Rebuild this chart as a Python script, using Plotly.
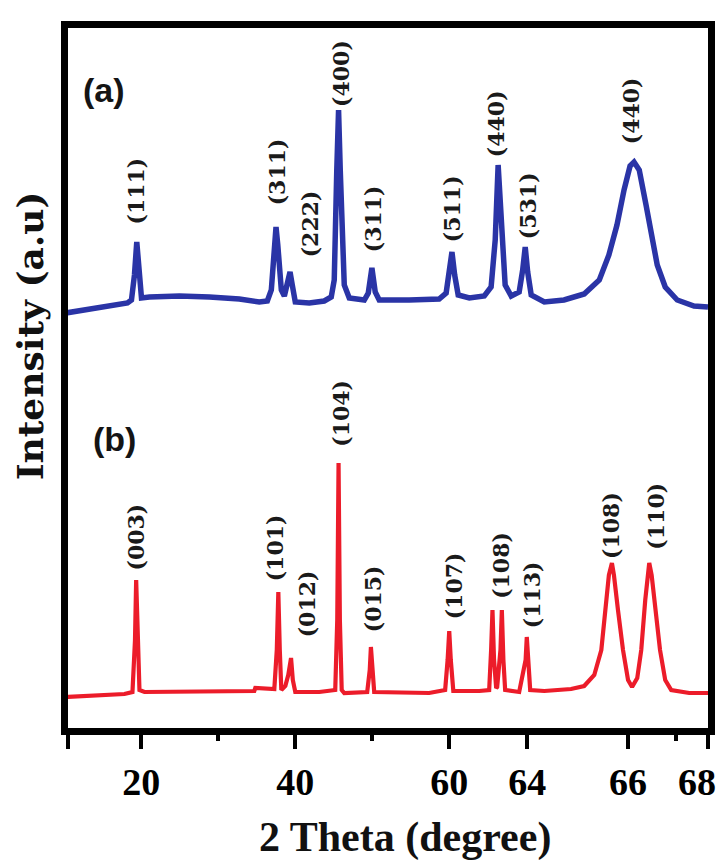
import numpy as np
import plotly.graph_objects as go

# ---- axis: the printed 2-theta tick labels are not evenly spaced ----
TICK_LABELS = [20, 40, 60, 64, 66, 68]
TICK_AXIS_POS = [20, 40, 60, 70.12, 83.22, 93.6]   # position of each label along the axis
MINOR_TICKS_2THETA = [30, 50, 67.2]

def to_axis(theta):
    return np.interp(theta, [0] + TICK_LABELS, [0] + TICK_AXIS_POS)

# ---- (a) blue pattern: 2-theta (deg) and stacked intensity (a.u.) ----
blue_2theta = [10.18, 12.0, 14.59, 17.19, 18.22, 18.74, 19.13, 19.43, 19.71, 20.04,
               21.08, 24.97, 28.86, 32.75, 35.34, 36.38, 36.90, 37.29, 37.51, 37.74,
               38.20, 38.59, 38.98, 39.33, 39.62, 40.01, 41.83, 43.77, 44.68, 45.07,
               45.40, 45.63, 45.85, 46.11, 46.37, 47.02, 48.97, 49.49, 49.96, 50.39,
               50.91, 54.80, 58.69, 59.60, 60.0, 60.14, 60.28, 60.46, 61.03, 61.80,
               62.15, 62.36, 62.51, 62.67, 62.87, 63.18, 63.59, 63.77, 63.90, 64.01,
               64.08, 64.34, 64.73, 65.13, 65.43, 65.62, 65.78, 65.92, 66.05, 66.15,
               66.28, 66.45, 66.58, 66.73, 66.93, 67.23, 67.65, 68.0]
blue_int = [422, 424, 427, 430, 432, 435, 460, 493, 465, 437,
            438, 439, 438, 436, 433, 434, 445, 490, 508, 490,
            445, 439, 450, 463, 450, 433, 432, 434, 438, 455,
            565, 625, 565, 485, 450, 437, 435, 442, 467, 443,
            435, 435, 436, 442, 460, 483, 460, 440, 437, 439,
            448, 495, 570, 505, 450, 439, 443, 465, 488, 463,
            440, 433, 435, 441, 455, 480, 510, 545, 569, 573,
            565, 530, 500, 470, 448, 435, 429, 428]

# ---- (b) red pattern ----
red_2theta = [10.18, 14.59, 17.83, 18.87, 19.20, 19.35, 19.52, 19.78, 20.43, 27.56,
              34.69, 34.82, 37.29, 37.61, 37.81, 38.00, 38.20, 38.72, 39.10, 39.46,
              39.69, 40.01, 43.13, 45.20, 45.46, 45.63, 45.80, 46.04, 46.37, 49.35,
              49.68, 49.83, 50.00, 50.26, 57.39, 59.47, 59.79, 60.0, 60.08, 60.21,
              61.54, 62.05, 62.15, 62.22, 62.30, 62.41, 62.46, 62.63, 62.70, 62.78,
              62.87, 63.59, 63.92, 63.98, 64.02, 64.06, 64.34, 64.63, 64.87, 65.13,
              65.33, 65.47, 65.56, 65.62, 65.68, 65.72, 65.80, 65.90, 66.0, 66.10,
              66.23, 66.33, 66.43, 66.49, 66.53, 66.59, 66.68, 66.80, 66.93, 67.08,
              67.53, 68.0]
red_int = [38, 40, 41, 43, 95, 155, 95, 45, 43, 44,
           44, 47, 46, 85, 143, 85, 45, 49, 60, 77,
           55, 43, 43, 45, 115, 272, 115, 45, 42, 43,
           65, 88, 65, 43, 42, 45, 75, 104, 75, 44,
           44, 45, 85, 125, 75, 47, 48, 85, 125, 75,
           45, 43, 75, 98, 75, 45, 44, 45, 46, 49,
           60, 85, 125, 160, 172, 160, 125, 85, 55, 48,
           57, 85, 135, 165, 172, 160, 125, 85, 55, 45,
           42, 42]

# ---- peak labels (Miller indices) ----
blue_hkl = ["(111)", "(311)", "(222)", "(400)", "(311)", "(511)", "(440)", "(531)", "(440)"]
blue_hkl_2theta = [19.39, 37.68, 41.96, 45.94, 50.13, 60.15, 62.41, 64.02, 66.08]
blue_hkl_int = [544, 563, 511, 662, 516, 526, 611, 529, 624]

red_hkl = ["(003)", "(101)", "(012)", "(104)", "(015)", "(107)", "(108)", "(113)", "(108)", "(110)"]
red_hkl_2theta = [19.39, 37.42, 41.57, 45.91, 50.13, 60.26, 62.65, 64.10, 65.66, 66.69]
red_hkl_int = [198, 187, 131, 322, 136, 149, 170, 140, 210, 219]

panel_names = ["(a)", "(b)"]
panel_2theta = [15.2, 16.6]
panel_int = [645, 296]

BLUE = "#2a34a6"
RED = "#ec1c2a"
SERIF = "Liberation Serif, Times New Roman, serif"
WIDE_SERIF = "DejaVu Serif, Liberation Serif, serif"

fig = go.Figure()
fig.add_trace(go.Scatter(x=to_axis(blue_2theta), y=blue_int, mode="lines",
                         line=dict(color=BLUE, width=5.5), showlegend=False))
fig.add_trace(go.Scatter(x=to_axis(red_2theta), y=red_int, mode="lines",
                         line=dict(color=RED, width=4.2), showlegend=False))

for txt, th, iv in list(zip(blue_hkl, blue_hkl_2theta, blue_hkl_int)) + \
        list(zip(red_hkl, red_hkl_2theta, red_hkl_int)):
    fig.add_annotation(x=float(to_axis(th)), y=iv, text="<b>%s</b>" % txt, textangle=-90,
                       showarrow=False, xanchor="center", yanchor="middle",
                       font=dict(family=WIDE_SERIF, size=22, color="#1a1a1a"))

for txt, th, iv in zip(panel_names, panel_2theta, panel_int):
    fig.add_annotation(x=float(to_axis(th)), y=iv, text="<b>%s</b>" % txt, showarrow=False,
                       xanchor="center", yanchor="middle",
                       font=dict(family="Liberation Sans Narrow, Arial Narrow, Liberation Sans, sans-serif",
                                 size=34, color="#141414"))

# axis titles
fig.add_annotation(xref="paper", yref="paper", x=-0.0594, y=0.561, text="<b>Intensity (a.u)</b>",
                   textangle=-90, showarrow=False, xanchor="center", yanchor="middle",
                   font=dict(family=WIDE_SERIF, size=36, color="#111"))
fig.add_annotation(xref="paper", yref="paper", x=0.527, y=-0.157, text="<b>2 Theta (degree)</b>",
                   showarrow=False, xanchor="center", yanchor="middle",
                   font=dict(family=SERIF, size=42, color="#111"))

# last tick label sits at the very right edge of the figure; keep it inside the page
last_label_text = ["<b>%d</b>" % v for v in TICK_LABELS]
fig.add_annotation(xref="paper", yref="paper", x=1.0155, y=-0.077, text=last_label_text[-1],
                   showarrow=False, xanchor="right", yanchor="middle",
                   font=dict(family=SERIF, size=38, color="black"))

axis_start = 10.5
fig.update_layout(
    width=720, height=867,
    margin=dict(l=68, r=12, t=28, b=139),
    paper_bgcolor="white", plot_bgcolor="white",
    xaxis=dict(range=[axis_start, 93.6], showgrid=False, zeroline=False, automargin=False,
               showline=True, mirror=True, linewidth=7, linecolor="black",
               tickmode="array",
               tickvals=[axis_start] + TICK_AXIS_POS,
               ticktext=[""] + last_label_text[:-1] + [""],
               ticks="outside", ticklen=14, tickwidth=4, tickcolor="black",
               tickfont=dict(family=SERIF, size=38, color="black"),
               minor=dict(tickvals=[float(v) for v in to_axis(MINOR_TICKS_2THETA)],
                          ticks="outside", ticklen=6, tickwidth=4, tickcolor="black")),
    yaxis=dict(range=[7, 707], showgrid=False, zeroline=False, showticklabels=False,
               automargin=False,
               showline=True, mirror=True, linewidth=7, linecolor="black", ticks=""),
)

fig.write_html("out.html")
